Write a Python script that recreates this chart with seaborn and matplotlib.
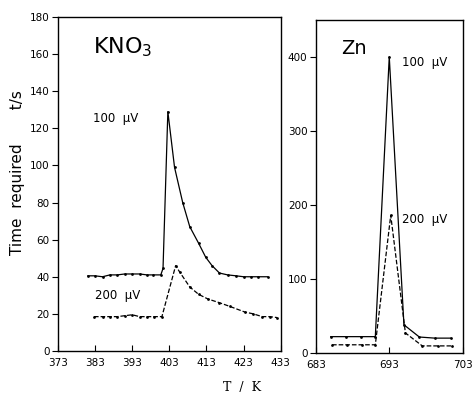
import numpy as np
import pandas as pd
import matplotlib
matplotlib.use("Agg")
import matplotlib.pyplot as plt
import seaborn as sns

# KNO3, 100 uV (solid)
kno3_T_100 = [381, 383, 385, 387, 389, 391, 393, 395, 397, 398.5, 400.7, 401.3,
              402.6, 404.4, 406.6, 408.5, 410.9, 412.8, 414.5, 416.5, 418.7, 421,
              423, 425, 427, 429.5]
kno3_t_100 = [40.5, 40.5, 40, 41, 41, 41.5, 41.5, 41.5, 41, 41, 41, 44.5,
              129, 99, 80, 67, 58, 50.5, 46, 42, 41, 40.5,
              40, 40, 40, 40]

# KNO3, 200 uV (dashed)
kno3_T_200 = [382.7, 385, 387, 389, 391, 393, 395, 397, 399, 401,
              404.7, 405.8, 408.5, 410.9, 413.4, 416.5, 419.3, 423.3, 425.6, 428, 430, 432]
kno3_t_200 = [18.5, 18.5, 18.5, 18.5, 19, 19.5, 18.5, 18.5, 18.5, 18.5,
              46, 42.5, 34.5, 30.5, 28, 26, 24, 21, 20, 18.5, 18.5, 18]

# Zn, 100 uV (solid)
zn_T_100 = [685, 687.1, 689.1, 691.1, 693, 695, 697.1, 699.2, 701.4]
zn_t_100 = [22, 22, 22, 22, 400, 38, 21.5, 20, 20]

# Zn, 200 uV (dashed)
zn_T_200 = [685.2, 687.2, 689.3, 691.1, 693.2, 695.2, 697.5, 699.6, 701.6]
zn_t_200 = [11, 11, 11, 11, 186, 27, 9.5, 9.5, 9.5]

sns.set_style("ticks")
plt.rcParams['font.family'] = ['DejaVu Sans']
plt.rcParams['text.color'] = 'black'
plt.rcParams['xtick.color'] = 'black'
plt.rcParams['ytick.color'] = 'black'

fig = plt.figure(figsize=(4.75, 3.97), dpi=100)
ax1 = fig.add_axes([0.122, 0.116, 0.469, 0.841])
ax2 = fig.add_axes([0.665, 0.111, 0.309, 0.839])

panels = [(ax1, (kno3_T_100, kno3_T_200), (kno3_t_100, kno3_t_200), (3, 2)),
          (ax2, (zn_T_100, zn_T_200), (zn_t_100, zn_t_200), (5, 2.5))]
for ax, Ts, ts, dash in panels:
    d1 = pd.DataFrame({'T': Ts[0], 't': ts[0]})
    d2 = pd.DataFrame({'T': Ts[1], 't': ts[1]})
    sns.lineplot(data=d1, x='T', y='t', ax=ax, color='k', lw=0.9,
                 marker='o', markersize=2, markeredgewidth=0, estimator=None)
    sns.lineplot(data=d2, x='T', y='t', ax=ax, color='k', lw=0.9, linestyle='--',
                 dashes=dash, marker='o', markersize=2, markeredgewidth=0, estimator=None)
    for s in ax.spines.values():
        s.set_visible(True)
        s.set_linewidth(1.0)
        s.set_color('k')
    ax.set_xlabel('')
    ax.set_ylabel('')

ax1.set_xlim(373, 433)
ax1.set_ylim(0, 180)
ax1.set_xticks(np.arange(373, 434, 10))
ax1.set_yticks(np.arange(0, 181, 20))
ax1.tick_params(axis='x', direction='in', length=4, labelsize=7.5, pad=5)
ax1.tick_params(axis='y', direction='out', length=4, labelsize=7.5, pad=2)

ax2.set_xlim(683, 703)
ax2.set_ylim(0, 450)
ax2.set_xticks([683, 693, 703])
ax2.set_yticks([0, 100, 200, 300, 400])
ax2.tick_params(axis='x', direction='in', length=4, labelsize=7.5, pad=5)
ax2.tick_params(axis='y', direction='out', length=4, labelsize=7.5, pad=2)

ax1.text(382.4, 164, 'KNO$_3$', fontsize=16, va='center', ha='left')
ax1.text(382.4, 125.5, '100  µV', fontsize=8.5, va='center', ha='left')
ax1.text(383, 30, '200  µV', fontsize=8.5, va='center', ha='left')
ax2.text(686.4, 411, 'Zn', fontsize=14, va='center', ha='left')
ax2.text(694.8, 392, '100  µV', fontsize=8.5, va='center', ha='left')
ax2.text(694.8, 180, '200  µV', fontsize=8.5, va='center', ha='left')

fig.text(18 / 475, 1 - 173 / 397, 'Time  required       t/s', rotation=90,
         fontsize=11, ha='center', va='center')
fig.text(242 / 475, 1 - 388 / 397, 'T  /  K', fontsize=9, ha='center', va='center',
         family='DejaVu Serif')

fig.savefig('out.png', dpi=100, facecolor='white')
